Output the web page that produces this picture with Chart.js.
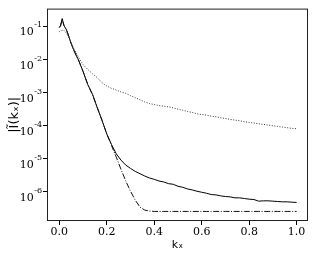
<!DOCTYPE html>
<html>
<head>
<meta charset="utf-8">
<script src="https://cdn.jsdelivr.net/npm/chart.js@4/dist/chart.umd.min.js"></script>
<style>
  html, body { margin: 0; padding: 0; background: #fff; }
  #wrap { width: 314px; height: 255px; }
</style>
</head>
<body>
<div id="wrap"><canvas id="canvas" width="314" height="255"></canvas></div>
<script>
// k_x sample positions
var kx = [0.0, 0.005, 0.012, 0.02, 0.03, 0.04, 0.05, 0.06, 0.07, 0.08, 0.10, 0.12, 0.14, 0.16, 0.18,
    0.20, 0.22, 0.24, 0.26, 0.28, 0.30, 0.32, 0.34, 0.36, 0.38, 0.40, 0.42, 0.44, 0.46, 0.48,
    0.50, 0.52, 0.54, 0.56, 0.58, 0.60, 0.62, 0.64, 0.66, 0.68, 0.70, 0.72, 0.74, 0.76, 0.78,
    0.80, 0.82, 0.84, 0.86, 0.88, 0.90, 0.92, 0.94, 0.96, 0.98, 1.00];

// values, stored as log10 of |I(kx)|
var solidLog = [-1.03, -0.98, -0.76, -0.98, -1.1, -1.3, -1.52, -1.70, -1.86, -2.0, -2.36, -2.76, -3.05, -3.46, -3.84,
    -4.25, -4.57, -4.85, -5.04, -5.19, -5.29, -5.38, -5.45, -5.52, -5.58, -5.62, -5.67, -5.70, -5.75, -5.77,
    -5.83, -5.86, -5.91, -5.94, -5.98, -6.01, -6.04, -6.08, -6.09, -6.12, -6.14, -6.15, -6.18, -6.18, -6.20,
    -6.22, -6.23, -6.28, -6.27, -6.27, -6.28, -6.29, -6.30, -6.30, -6.31, -6.32];

var dashDotLog = [-1.03, -0.98, -0.80, -0.98, -1.1, -1.3, -1.52, -1.70, -1.86, -2.0, -2.36, -2.75, -3.07, -3.45, -3.84,
    -4.25, -4.60, -4.95, -5.32, -5.67, -5.98, -6.25, -6.46, -6.55, -6.58, -6.59, -6.59, -6.59, -6.59, -6.59,
    -6.59, -6.59, -6.59, -6.59, -6.59, -6.59, -6.59, -6.59, -6.59, -6.59, -6.59, -6.59, -6.59, -6.59, -6.59,
    -6.59, -6.59, -6.59, -6.59, -6.59, -6.59, -6.59, -6.59, -6.59, -6.59, -6.59];

var dottedLog = [-1.16, -1.13, -1.12, -1.12, -1.2, -1.35, -1.5, -1.65, -1.78, -1.92, -2.15, -2.3, -2.43, -2.55, -2.7,
    -2.8, -2.87, -2.92, -2.98, -3.02, -3.09, -3.15, -3.22, -3.28, -3.33, -3.36, -3.39, -3.41, -3.43, -3.46,
    -3.5, -3.53, -3.57, -3.6, -3.64, -3.66, -3.68, -3.71, -3.73, -3.76, -3.78, -3.81, -3.83, -3.85, -3.88,
    -3.9, -3.92, -3.94, -3.96, -3.98, -4.0, -4.02, -4.04, -4.06, -4.08, -4.09];

var xTicks = [0.0, 0.2, 0.4, 0.6, 0.8, 1.0];
var yTicks = [1e-6, 1e-5, 1e-4, 1e-3, 1e-2, 1e-1];

function points(logs) {
    var pts = [];
    for (var i = 0; i < kx.length; i++) pts.push({ x: kx[i], y: Math.pow(10, logs[i]) });
    return pts;
}

// frame round the plot + y labels drawn as 10 with a raised exponent
var frame = {
    id: 'frame',
    afterDraw: function (chart) {
        var a = chart.chartArea, ctx = chart.ctx, y = chart.scales.y;
        ctx.save();
        ctx.strokeStyle = '#222';
        ctx.lineWidth = 1;
        ctx.strokeRect(a.left + 0.5, a.top + 0.5, a.right - a.left - 1, a.bottom - a.top - 1);
        ctx.fillStyle = '#000';
        ctx.textAlign = 'right';
        ctx.textBaseline = 'alphabetic';
        for (var i = 0; i < yTicks.length; i++) {
            var py = y.getPixelForValue(yTicks[i]);
            var exp = '-' + Math.round(-Math.log10(yTicks[i]));
            var right = a.left - 5;
            ctx.font = '8px "DejaVu Serif"';
            var w = ctx.measureText(exp).width;
            ctx.fillText(exp, right, py + 1);
            ctx.font = '11px "DejaVu Serif"';
            ctx.fillText('10', right - w - 0.5, py + 9);
        }
        ctx.restore();
    }
};

new Chart('canvas', {
    type: 'line',
    data: {
        datasets: [
            { data: points(dottedLog), borderColor: '#333', borderWidth: 1, borderDash: [1, 1.6] },
            { data: points(dashDotLog), borderColor: '#111', borderWidth: 1, borderDash: [6, 1.6, 1, 1.6] },
            { data: points(solidLog), borderColor: '#000', borderWidth: 1 }
        ]
    },
    options: {
        responsive: false,
        animation: false,
        events: [],
        layout: { padding: { top: 5, right: 6, left: 0, bottom: 3 } },
        elements: { point: { radius: 0 }, line: { tension: 0 } },
        plugins: { legend: { display: false }, tooltip: { enabled: false } },
        scales: {
            x: {
                type: 'linear',
                min: -0.052,
                max: 1.048,
                afterBuildTicks: function (s) { s.ticks = xTicks.map(function (v) { return { value: v }; }); },
                afterFit: function (s) { s.height = 31; },
                grid: { drawOnChartArea: false, drawTicks: true, tickLength: 4, color: '#000' },
                border: { display: false },
                ticks: {
                    color: '#000', padding: 1, maxRotation: 0,
                    font: { family: 'DejaVu Serif', size: 11 },
                    callback: function (v) { return v.toFixed(1); }
                },
                title: {
                    display: true, text: 'k\u2093', color: '#000', padding: 0,
                    font: { family: 'DejaVu Sans', size: 11 }
                }
            },
            y: {
                type: 'logarithmic',
                min: 1.32e-7,
                max: 0.347,
                afterBuildTicks: function (s) { s.ticks = yTicks.map(function (v) { return { value: v }; }); },
                afterFit: function (s) { s.width = 47; },
                grid: { drawOnChartArea: false, drawTicks: true, tickLength: 4, color: '#000' },
                border: { display: false },
                ticks: {
                    color: '#000', padding: 2,
                    font: { family: 'DejaVu Serif', size: 11 },
                    callback: function () { return ''; }
                },
                title: {
                    display: true, text: '|I\u0303(k\u2093)|', color: '#000', padding: { top: 7, bottom: 0 },
                    font: { family: 'DejaVu Sans', size: 13 }
                }
            }
        }
    },
    plugins: [frame]
});
</script>
</body>
</html>
